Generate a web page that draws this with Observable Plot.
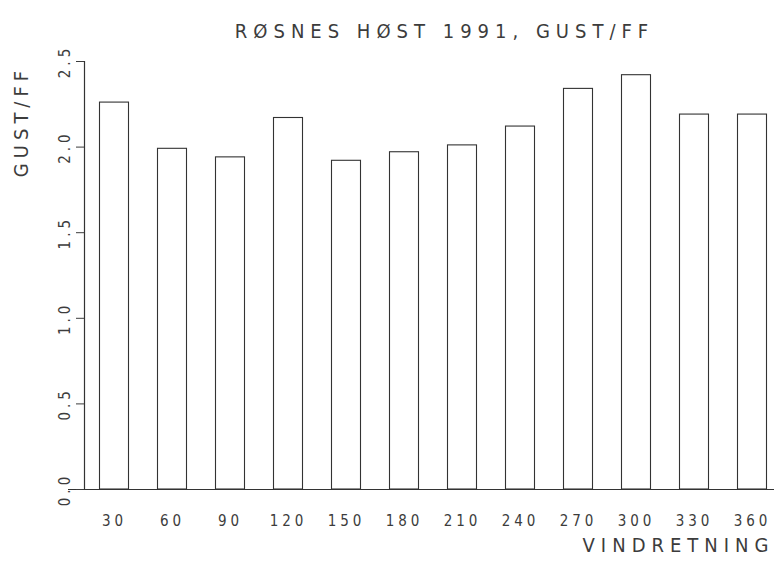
<!DOCTYPE html>
<html><head><meta charset="utf-8">
<script src="https://cdn.jsdelivr.net/npm/d3@7"></script>
<script src="https://cdn.jsdelivr.net/npm/@observablehq/plot@0.6"></script>
<style>
body{margin:0;background:#fff}
g[aria-label="x-axis tick label"]{letter-spacing:4px}
g[aria-label="y-axis tick label"]{letter-spacing:4px}
</style>
</head><body><div id="chart"></div>
<script>
const directions = ["30","60","90","120","150","180","210","240","270","300","330","360"];
const values = [2.26, 1.99, 1.94, 2.17, 1.92, 1.97, 2.01, 2.12, 2.34, 2.42, 2.19, 2.19];
const yTicks = [0, 0.5, 1.0, 1.5, 2.0, 2.5];
const titleText = "RØSNES HØST 1991, GUST/FF";
const yLabel = "GUST/FF";
const xLabel = "VINDRETNING";

const data = directions.map((d, i) => ({dir: d, val: values[i]}));
const font = "'DejaVu Sans Condensed', 'Liberation Sans Narrow', 'DejaVu Sans', sans-serif";
const ink = "#333";
const textInk = "#3c3c3c";

const chart = Plot.plot({
  width: 774, height: 567,
  marginLeft: 84, marginRight: 0, marginTop: 61, marginBottom: 78,
  style: {fontFamily: font, color: textInk, background: "white", overflow: "visible"},
  x: {type: "band", domain: directions, range: [85, 781], paddingInner: 0.5, paddingOuter: 0.25, round: false, label: null},
  y: {domain: [0, 2.5], label: null},
  marks: [
    Plot.barY(data, {x: "dir", y: "val", fill: "none", stroke: ink, strokeWidth: 1.1}),
    Plot.ruleY([0], {insetLeft: -16, stroke: ink, strokeWidth: 1.2}),
    Plot.frame({anchor: "left", stroke: ink, strokeWidth: 1.2}),
    Plot.axisY(yTicks, {tickSize: 8, tickRotate: -90, tickPadding: 7, tickFormat: d => d.toFixed(1), fontSize: 15, fontWeight: 300, label: null}),
    Plot.axisX({tickSize: 0, tickPadding: 26, fontSize: 15, fontWeight: 300, label: null}),
    Plot.text([titleText], {frameAnchor: "top", dx: 15, dy: -38, fontSize: 20, fontWeight: 300, fill: textInk}),
    Plot.text([yLabel], {frameAnchor: "top-left", textAnchor: "middle", lineAnchor: "middle", dx: -63, dy: 60, rotate: -90, fontSize: 20, fontWeight: 300, fill: textInk}),
    Plot.text([xLabel], {frameAnchor: "bottom-right", textAnchor: "end", dx: 0, dy: 62, fontSize: 20, fontWeight: 300, fill: textInk})
  ]
});
const spacing = new Map([[titleText, 6], [yLabel, 5], [xLabel, 6]]);
d3.select(chart).selectAll("text")
  .filter(function() { return spacing.has(this.textContent); })
  .attr("letter-spacing", function() { return spacing.get(this.textContent); });
document.getElementById("chart").appendChild(chart);
</script>
</body></html>
